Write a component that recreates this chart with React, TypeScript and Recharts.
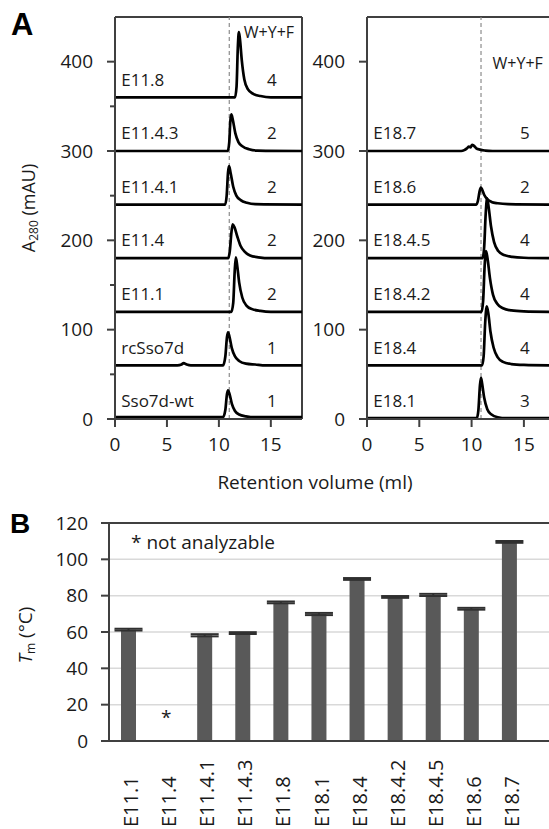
import React from 'react';
import {
  LineChart,
  Line,
  XAxis,
  YAxis,
  ReferenceLine,
  ReferenceDot,
  Label,
  BarChart,
  Bar,
  ErrorBar,
  CartesianGrid,
} from 'recharts';

const FONT = '"Open Sans", sans-serif';
const AXIS = '#404040';
const TEXT = '#1a1a1a';

// ---- Panel A data ----
// traces: [retention volume (ml), A280 (mAU) above the trace's own baseline]
const SSO7D_WT = [[0, 2], [6, 2], [10.4, 2], [10.62, 10], [10.78, 28], [10.88, 32], [11.02, 28], [11.25, 17], [11.55, 9], [11.95, 5], [12.6, 3], [13.5, 2], [18, 2]];
const RC_SSO7D = [[0, 0], [6.0, 0], [6.4, 1], [6.6, 2.5], [6.9, 1], [7.3, 0], [10.4, 0], [10.62, 10], [10.78, 32], [10.88, 37], [11.02, 32], [11.25, 19], [11.55, 10], [11.95, 5], [12.6, 2], [13.5, 1], [14.5, 0], [18, 0]];
const E11_1 = [[0, 0], [11.2, 0], [11.38, 10], [11.52, 45], [11.63, 61], [11.76, 52], [11.95, 33], [12.25, 16], [12.65, 7], [13.2, 3], [14, 1], [15, 0], [18, 0]];
const E11_4 = [[0, 0], [10.9, 0], [11.05, 8], [11.2, 28], [11.33, 38], [11.52, 34], [11.78, 24], [12.08, 14], [12.5, 7], [13, 3], [13.8, 1], [15, 0], [18, 0]];
const E11_4_1 = [[0, 0], [10.6, 0], [10.75, 10], [10.88, 36], [10.98, 43], [11.12, 36], [11.38, 20], [11.68, 10], [12.1, 5], [12.7, 2], [13.5, 0.5], [18, 0]];
const E11_4_3 = [[0, 0], [10.85, 0], [11.0, 10], [11.1, 33], [11.2, 41], [11.34, 35], [11.58, 20], [11.88, 10], [12.3, 5], [12.9, 2], [13.7, 0.5], [18, 0]];
const E11_8 = [[0, 0], [11.55, 0], [11.7, 12], [11.82, 55], [11.92, 73], [12.02, 66], [12.2, 42], [12.45, 20], [12.8, 9], [13.3, 4], [14, 1.5], [15, 0], [18, 0]];

const E18_1 = [[0, 1], [10.5, 1], [10.65, 10], [10.8, 38], [10.9, 46], [11.0, 40], [11.2, 24], [11.5, 11], [11.9, 5], [12.5, 2], [13.3, 1], [17.4, 1]];
const E18_4 = [[0, 0], [11.0, 0], [11.15, 10], [11.3, 48], [11.45, 66], [11.6, 58], [11.8, 38], [12.1, 20], [12.5, 9], [13, 4], [13.8, 1.5], [15, 0.5], [17.4, 0]];
const E18_4_2 = [[0, 0], [10.95, 0], [11.1, 12], [11.25, 52], [11.38, 68], [11.52, 60], [11.75, 38], [12.05, 19], [12.45, 9], [13, 4], [13.8, 1.5], [15, 0.5], [17.4, 0]];
const E18_4_5 = [[0, 0], [11.05, 0], [11.2, 12], [11.35, 50], [11.48, 67], [11.62, 58], [11.85, 36], [12.15, 18], [12.55, 8], [13.1, 3.5], [13.9, 1.5], [15, 0.5], [17.4, 0]];
const E18_6 = [[0, 0], [10.45, 0], [10.6, 4], [10.75, 14], [10.88, 19], [11.0, 17], [11.2, 11], [11.5, 6], [11.9, 3], [12.5, 1.5], [13.5, 0.5], [17.4, 0]];
const E18_7 = [[0, 0], [9.0, 0], [9.3, 1], [9.55, 3], [9.75, 5], [9.9, 4], [10.05, 7], [10.2, 6], [10.45, 3], [10.8, 1.5], [11.3, 0.5], [12, 0], [17.4, 0]];

// top to bottom
const LEFT_NAMES = ['E11.8', 'E11.4.3', 'E11.4.1', 'E11.4', 'E11.1', 'rcSso7d', 'Sso7d-wt'];
const LEFT_WYF = [4, 2, 2, 2, 2, 1, 1];
const LEFT_OFFSETS = [360, 300, 240, 180, 120, 60, 0];
const LEFT_TRACES = [E11_8, E11_4_3, E11_4_1, E11_4, E11_1, RC_SSO7D, SSO7D_WT];

const RIGHT_NAMES = ['E18.7', 'E18.6', 'E18.4.5', 'E18.4.2', 'E18.4', 'E18.1'];
const RIGHT_WYF = [5, 2, 4, 4, 4, 3];
const RIGHT_OFFSETS = [300, 240, 180, 120, 60, 0];
const RIGHT_TRACES = [E18_7, E18_6, E18_4_5, E18_4_2, E18_4, E18_1];

const A_X_TICKS = [0, 5, 10, 15];
const A_Y_TICKS_LEFT = [0, 50, 100, 150, 200, 250, 300, 350, 400];
const A_Y_TICKS_RIGHT = [0, 100, 200, 300, 400];

// ---- Panel B data ----
const TM_SAMPLES = ['E11.1', 'E11.4', 'E11.4.1', 'E11.4.3', 'E11.8', 'E18.1', 'E18.4', 'E18.4.2', 'E18.4.5', 'E18.6', 'E18.7'];
const TM_VALUES = [61.3, null, 58.2, 59.4, 76.3, 69.9, 89.2, 79.3, 80.4, 72.8, 109.6];
const TM_ERRORS = [0.5, null, 0.6, 0.5, 0.5, 0.6, 0.5, 0.5, 0.6, 0.5, 0.5];
const TM_TICKS = [0, 20, 40, 60, 80, 100, 120];

const tmData = TM_SAMPLES.map((s, i) => ({ sample: s, tm: TM_VALUES[i], err: TM_ERRORS[i] }));

const TICK_FONT = 19;

const StackTick = (props: any) => {
  const { x, y, payload } = props;
  const major = payload.value % 100 === 0;
  const axisX = x + 22;
  return (
    <g>
      <line x1={axisX - (major ? 8 : 5)} x2={axisX} y1={y} y2={y} stroke={AXIS} strokeWidth={2} />
      {major && (
        <text x={x} y={y} dy="0.35em" textAnchor="end" fontSize={TICK_FONT} fontFamily={FONT} fill={TEXT}>
          {payload.value}
        </text>
      )}
    </g>
  );
};

const A280Label = (props: any) => {
  const { viewBox } = props;
  const cx = 28;
  const cy = viewBox.y + viewBox.height / 2 - 10;
  return (
    <text x={cx} y={cy} transform={`rotate(-90, ${cx}, ${cy})`} textAnchor="middle" dominantBaseline="central" fontSize={18} fontFamily={FONT} fill={TEXT}>
      A<tspan fontSize={12} dy={5}>280</tspan>
      <tspan dy={-5}> (mAU)</tspan>
    </text>
  );
};

const TmLabel = (props: any) => {
  const { viewBox } = props;
  const cx = 25;
  const cy = viewBox.y + viewBox.height / 2 + 3;
  return (
    <text x={cx} y={cy} transform={`rotate(-90, ${cx}, ${cy})`} textAnchor="middle" dominantBaseline="central" fontSize={19} fontFamily={FONT} fill={TEXT}>
      <tspan fontStyle="italic">T</tspan>
      <tspan fontSize={12} dy={5}>m</tspan>
      <tspan dy={-5}> (°C)</tspan>
    </text>
  );
};

const SampleTick = (props: any) => {
  const { x, y, payload } = props;
  const tx = x + 3;
  const ty = y + 86;
  return (
    <text x={tx} y={ty} dy="0.35em" transform={`rotate(-90, ${tx}, ${ty})`} textAnchor="start" fontSize={20} fontFamily={FONT} fill={TEXT}>
      {payload.value}
    </text>
  );
};

interface StackProps {
  names: string[];
  wyf: number[];
  offsets: number[];
  traces: number[][][];
  xMax: number;
  yTicks: number[];
  dashX: number;
  wyfAt: [number, number];
  width: number;
  yAxisWidth: number;
  rightBorder: boolean;
  yLabel: boolean;
}

const Stack = (p: StackProps) => {
  const labelStyle = { fontSize: 17, fontFamily: FONT, fill: TEXT };
  return (
    <LineChart width={p.width} height={460} margin={{ top: 17, right: p.rightBorder ? 8 : 0, left: 0, bottom: 0 }}>
      <XAxis
        type="number"
        dataKey="x"
        domain={[0, p.xMax]}
        ticks={A_X_TICKS}
        allowDataOverflow
        height={41}
        stroke={AXIS}
        strokeWidth={2}
        tickSize={8}
        tickMargin={11}
        tick={{ fontSize: TICK_FONT, fontFamily: FONT, fill: TEXT }}
        tickLine={{ stroke: AXIS, strokeWidth: 2 }}
      />
      <YAxis
        type="number"
        domain={[0, 450]}
        ticks={p.yTicks}
        allowDataOverflow
        width={p.yAxisWidth}
        stroke={AXIS}
        strokeWidth={2}
        tickSize={8}
        tickMargin={14}
        tickLine={false}
        tick={<StackTick />}
        interval={0}
      >
        {p.yLabel && <Label content={A280Label} />}
      </YAxis>
      <ReferenceLine y={450} stroke={AXIS} strokeWidth={2} />
      {p.rightBorder && <ReferenceLine x={p.xMax} stroke={AXIS} strokeWidth={2} />}
      <ReferenceLine x={p.dashX} stroke="#8c8c8c" strokeWidth={1.2} strokeDasharray="4 3" />
      {p.traces.map((tr, i) => (
        <Line
          key={p.names[i]}
          data={tr.map(([x, a]) => ({ x, y: a + p.offsets[i] }))}
          dataKey="y"
          type="monotone"
          stroke="#000"
          strokeWidth={2.7}
          dot={false}
          activeDot={false}
          isAnimationActive={false}
        />
      ))}
      {p.names.map((n, i) => (
        <ReferenceDot
          key={'n' + n}
          x={0.6}
          y={p.offsets[i] + 20}
          r={0}
          fill="none"
          stroke="none"
          label={{ value: n, position: 'right', offset: 0, ...labelStyle }}
        />
      ))}
      {p.wyf.map((w, i) => (
        <ReferenceDot
          key={'w' + p.names[i]}
          x={15.1}
          y={p.offsets[i] + 20}
          r={0}
          fill="none"
          stroke="none"
          label={{ value: String(w), position: 'center', offset: 0, ...labelStyle }}
        />
      ))}
      <ReferenceDot
        x={p.wyfAt[0]}
        y={p.wyfAt[1]}
        r={0}
        fill="none"
        stroke="none"
        label={{ value: 'W+Y+F', position: 'right', offset: 0, ...labelStyle, fontSize: 16 }}
      />
    </LineChart>
  );
};

export default function App() {
  return (
    <div style={{ position: 'absolute', left: 0, top: 0, width: 549, height: 829, background: '#fff', overflow: 'hidden' }}>
      <div style={{ position: 'absolute', left: 0, top: 0 }}>
        <Stack
          names={LEFT_NAMES}
          wyf={LEFT_WYF}
          offsets={LEFT_OFFSETS}
          traces={LEFT_TRACES}
          xMax={18}
          yTicks={A_Y_TICKS_LEFT}
          dashX={11.0}
          wyfAt={[12.4, 433]}
          width={310}
          yAxisWidth={115}
          rightBorder
          yLabel
        />
      </div>
      <div style={{ position: 'absolute', left: 250, top: 0 }}>
        <Stack
          names={RIGHT_NAMES}
          wyf={RIGHT_WYF}
          offsets={RIGHT_OFFSETS}
          traces={RIGHT_TRACES}
          xMax={17.4}
          yTicks={A_Y_TICKS_RIGHT}
          dashX={10.9}
          wyfAt={[12.0, 398]}
          width={299}
          yAxisWidth={117}
          rightBorder={false}
          yLabel={false}
        />
      </div>
      <div style={{ position: 'absolute', left: 0, top: 500 }}>
        <BarChart width={549} height={329} data={tmData} margin={{ top: 23, right: 0, left: 0, bottom: 0 }} barCategoryGap={0}>
          <CartesianGrid vertical={false} stroke="#d9d9d9" strokeWidth={1.5} />
          <XAxis
            dataKey="sample"
            interval={0}
            height={88}
            padding={{ left: 0, right: 21 }}
            stroke={AXIS}
            strokeWidth={2}
            tickSize={0}
            tickMargin={0}
            tickLine={false}
            tick={<SampleTick />}
          />
          <YAxis
            domain={[0, 120]}
            ticks={TM_TICKS}
            width={109}
            stroke={AXIS}
            strokeWidth={2}
            tickSize={8}
            tickMargin={13}
            tick={{ fontSize: TICK_FONT, fontFamily: FONT, fill: TEXT }}
            tickLine={{ stroke: AXIS, strokeWidth: 2 }}
          >
            <Label content={TmLabel} />
          </YAxis>
          <ReferenceLine y={120} stroke={AXIS} strokeWidth={2} />
          <Bar dataKey="tm" fill="#595959" barSize={15} isAnimationActive={false}>
            <ErrorBar dataKey="err" width={14} stroke="#303030" strokeWidth={2} />
          </Bar>
          <ReferenceDot
            x="E11.4"
            y={13}
            r={0}
            fill="none"
            stroke="none"
            label={{ value: '*', position: 'center', offset: 0, fontSize: 19, fontFamily: FONT, fill: TEXT }}
          />
          <ReferenceDot
            x="E11.1"
            y={109.5}
            r={0}
            fill="none"
            stroke="none"
            label={{ value: '* not analyzable', position: 'right', offset: 3, fontSize: 19, fontFamily: FONT, fill: TEXT }}
          />
        </BarChart>
      </div>
      <svg width={549} height={829} style={{ position: 'absolute', left: 0, top: 0, pointerEvents: 'none' }}>
        <text x={11} y={35} fontSize={31} fontWeight="bold" fontFamily='"Liberation Sans", Arial, sans-serif' fill="#000">A</text>
        <text x={10} y={533} fontSize={28} fontWeight="bold" fontFamily='"Liberation Sans", Arial, sans-serif' fill="#000">B</text>
        <text x={315} y={482} dy="0.35em" textAnchor="middle" fontSize={19} fontFamily={FONT} fill={TEXT}>Retention volume (ml)</text>
      </svg>
    </div>
  );
}
